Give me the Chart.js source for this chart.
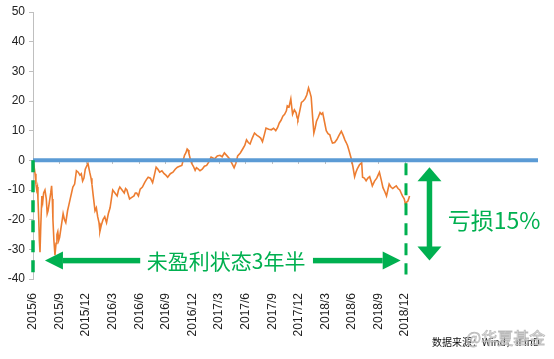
<!DOCTYPE html>
<html>
<head>
<meta charset="utf-8">
<script src="https://cdn.jsdelivr.net/npm/chart.js@4.4.1/dist/chart.umd.min.js"></script>
<style>
  html, body { margin: 0; padding: 0; background: #fff; }
</style>
</head>
<body>
<canvas id="lossChart" width="554" height="359"></canvas>
<script>
// 月份偏移（从 2015/6 起）与对应收益率（%）
const months = [
  0, 0.12, 0.23, 0.33, 0.42, 0.5, 0.56, 0.65, 0.72, 0.79, 0.88, 1.0, 1.1, 1.2, 1.35, 1.5, 1.6, 1.7, 1.85, 2.0,
  2.1, 2.18, 2.25, 2.36, 2.48, 2.6, 2.7, 2.8, 2.9, 3.0, 3.2, 3.4, 3.55, 3.7, 3.9, 4.05, 4.2, 4.35, 4.5, 4.7,
  4.9, 5.1, 5.3, 5.45, 5.6, 5.75, 5.9, 6.05, 6.2, 6.3, 6.4, 6.55, 6.65, 6.8, 7.0, 7.15, 7.3, 7.45, 7.55, 7.7,
  7.9, 8.1, 8.3, 8.5, 8.7, 8.85, 9.0, 9.25, 9.5, 9.65, 9.8, 10.05, 10.3, 10.45, 10.6, 10.75, 10.9, 11.15, 11.4, 11.55,
  11.7, 11.9, 12.1, 12.35, 12.6, 12.8, 13.0, 13.25, 13.5, 13.7, 13.9, 14.1, 14.3, 14.55, 14.8, 15.0, 15.2, 15.5, 15.8, 16.05,
  16.3, 16.55, 16.8, 16.95, 17.1, 17.25, 17.4, 17.5, 17.6, 17.75, 17.9, 18.1, 18.3, 18.45, 18.6, 18.85, 19.1, 19.35, 19.6, 19.85,
  20.1, 20.3, 20.5, 20.8, 21.1, 21.35, 21.6, 21.9, 22.2, 22.45, 22.7, 22.9, 23.1, 23.4, 23.7, 23.9, 24.1, 24.3, 24.5, 24.75,
  25.0, 25.25, 25.5, 25.7, 25.9, 26.1, 26.3, 26.6, 26.9, 27.15, 27.4, 27.6, 27.8, 28.0, 28.2, 28.4, 28.6, 28.7, 28.9, 29.1,
  29.2, 29.3, 29.5, 29.7, 29.8, 29.9, 30.1, 30.3, 30.5, 30.7, 30.9, 31.1, 31.25, 31.4, 31.55, 31.7, 31.85, 32.0, 32.2, 32.4,
  32.55, 32.7, 32.9, 33.1, 33.3, 33.5, 33.65, 33.8, 34.05, 34.3, 34.55, 34.8, 35.0, 35.2, 35.35, 35.5, 35.7, 35.9, 36.1, 36.3,
  36.45, 36.6, 36.85, 37.1, 37.2, 37.4, 37.6, 37.8, 38.0, 38.15, 38.3, 38.55, 38.8, 38.95, 39.1, 39.3, 39.5, 39.7, 39.9, 40.05,
  40.2, 40.4, 40.6, 40.8, 41.0, 41.2, 41.4, 41.55, 41.7, 41.9, 42.05, 42.2, 42.3, 42.4, 42.5
];
const returns = [
  0, -2, -4.5, -8, -10, -9, -13, -20, -27, -31, -22, -12, -14, -11, -10, -13, -18, -17, -14, -11,
  -8.6, -13, -20, -27, -32, -28, -25, -24, -27, -26, -22, -18, -20, -21, -17, -15, -13, -11, -9, -8,
  -3.5, -4, -5, -4.5, -7, -6, -3, -2, -1, -2.5, -4, -6, -8, -12, -17, -16, -19, -21, -24, -22,
  -20, -19, -21, -18, -16, -13, -10, -11, -12, -10, -9, -10, -11, -9.5, -10, -11.5, -13, -12.5, -12, -11,
  -11, -12, -9.7, -9, -7.5, -6.5, -5.7, -6, -7.5, -5, -2.3, -3, -4, -3.5, -4.5, -5, -5.7, -4.5, -4, -3,
  -2.3, -2, -1.7, 0, 1.7, 2.5, 3.8, 3.5, 2.3, 0.5, -1, -2, -3.4, -2.5, -2.8, -3.5, -3, -2, -1.7, -0.5,
  1.1, 0.8, 0.5, 1.5, 1.7, 1.2, 2.5, 1.5, 0.5, -1, -2.5, -1, 1.5, 2.5, 4, 5, 6.9, 6, 5.5, 7.5,
  9.2, 8.5, 8, 7.5, 6.3, 8.5, 10.9, 10.5, 10.3, 10.8, 10, 11, 12.6, 13.5, 14.9, 15.5, 16.7, 18.4, 18, 20.7,
  18, 15.5, 17, 16, 14.5, 13.8, 16.5, 19.5, 20, 20.7, 22, 24.4, 23, 21.3, 15, 9.2, 11, 13.2, 14.5, 16.1,
  15.5, 16, 13, 10, 9, 8.6, 7, 5.8, 6, 7, 8.5, 9.8, 8.5, 6.9, 6, 5, 3, 0.8, -2, -5.5,
  -4, -2.9, -1.5, -0.8, -5.7, -6, -6.9, -6, -5.5, -7, -8.6, -7, -6, -5, -4, -6.5, -9.2, -10.5, -12, -10,
  -8, -9, -9.5, -9, -8.6, -9.5, -10, -11, -12, -13, -14.9, -14, -13.8, -13, -12
];
const quarterLabels = [
  "2015/6", "2015/9", "2015/12", "2016/3", "2016/6", "2016/9", "2016/12",
  "2017/3", "2017/6", "2017/9", "2017/12", "2018/3", "2018/6", "2018/9", "2018/12"
];
const lastLabelMonth = (quarterLabels.length - 1) * 3;
const axisMaxMonth = 57;

const GREEN = "#00b050";
const CJK = '"Noto Sans CJK SC", "Noto Sans", sans-serif';

// 箭头
function hArrow(ctx, x1, x2, yy, shaft, headLen, headHalf) {
  const dir = Math.sign(x2 - x1);
  const base = x2 - dir * headLen;
  ctx.fillRect(Math.min(x1, base), yy - shaft / 2, Math.abs(base - x1), shaft);
  ctx.beginPath();
  ctx.moveTo(x2, yy);
  ctx.lineTo(base, yy - headHalf);
  ctx.lineTo(base, yy + headHalf);
  ctx.closePath();
  ctx.fill();
}
function vDoubleArrow(ctx, xx, y1, y2, shaft, headLen, headHalf) {
  ctx.fillRect(xx - shaft / 2, y1 + headLen - 1, shaft, y2 - y1 - 2 * headLen + 2);
  ctx.beginPath();
  ctx.moveTo(xx, y1);
  ctx.lineTo(xx - headHalf, y1 + headLen);
  ctx.lineTo(xx + headHalf, y1 + headLen);
  ctx.closePath();
  ctx.fill();
  ctx.beginPath();
  ctx.moveTo(xx, y2);
  ctx.lineTo(xx - headHalf, y2 - headLen);
  ctx.lineTo(xx + headHalf, y2 - headLen);
  ctx.closePath();
  ctx.fill();
}

const notes = {
  id: "notes",
  afterDraw(chart) {
    const { ctx, scales: { x, y } } = chart;
    ctx.save();
    // 虚线
    ctx.strokeStyle = GREEN;
    ctx.setLineDash([12, 8]);
    ctx.lineWidth = 3.5;
    ctx.beginPath();
    ctx.moveTo(x.getPixelForValue(0), y.getPixelForValue(0));
    ctx.lineTo(x.getPixelForValue(0), y.getPixelForValue(-40));
    ctx.stroke();
    ctx.lineWidth = 3;
    ctx.beginPath();
    ctx.moveTo(x.getPixelForValue(42.1), y.getPixelForValue(-1));
    ctx.lineTo(x.getPixelForValue(42.1), y.getPixelForValue(-38.5));
    ctx.stroke();
    ctx.setLineDash([]);

    ctx.fillStyle = GREEN;
    const ay = y.getPixelForValue(-33.8);
    hArrow(ctx, x.getPixelForValue(12.1), x.getPixelForValue(1.35), ay, 5.5, 18, 9);
    hArrow(ctx, x.getPixelForValue(31.6), x.getPixelForValue(41.5), ay, 5.5, 18, 9);
    vDoubleArrow(ctx, x.getPixelForValue(44.75), y.getPixelForValue(-2.3), y.getPixelForValue(-33.8), 5.5, 14, 12);

    ctx.font = "21px " + CJK;
    ctx.textAlign = "center";
    ctx.textBaseline = "middle";
    ctx.fillText("未盈利状态3年半", x.getPixelForValue(21.8), ay);
    ctx.font = "23px " + CJK;
    ctx.textAlign = "left";
    ctx.fillText("亏损15%", x.getPixelForValue(46.8), y.getPixelForValue(-20.3));

    // 数据来源与水印
    ctx.font = "10px " + CJK;
    ctx.fillStyle = "#111";
    ctx.textBaseline = "alphabetic";
    ctx.fillText("数据来源：Wind，iFinD", 432, 346);
    ctx.font = "16px " + CJK;
    ctx.fillStyle = "rgba(235,235,235,0.85)";
    ctx.strokeStyle = "rgba(150,150,150,0.6)";
    ctx.lineWidth = 0.8;
    ctx.fillText("@华夏基金", 466, 344);
    ctx.strokeText("@华夏基金", 466, 344);
    ctx.restore();
  }
};

const ctx = document.getElementById("lossChart").getContext("2d");
new Chart(ctx, {
  type: "line",
  data: {
    datasets: [
      {
        label: "零线",
        data: [{ x: 0, y: 0 }, { x: axisMaxMonth, y: 0 }],
        borderColor: "#5b9bd5",
        borderWidth: 4,
        pointRadius: 0,
        xAxisID: "x"
      },
      {
        label: "收益率",
        data: months.map((m, i) => ({ x: m, y: returns[i] })),
        borderColor: "#ed7d31",
        borderWidth: 1.6,
        pointRadius: 0,
        tension: 0,
        xAxisID: "x"
      }
    ]
  },
  options: {
    responsive: false,
    animation: false,
    devicePixelRatio: 1,
    layout: { padding: { left: 0, right: 16, top: 12, bottom: 0 } },
    plugins: {
      legend: { display: false },
      tooltip: { enabled: false }
    },
    scales: {
      x: {
        type: "linear",
        min: 0,
        max: axisMaxMonth,
        position: "bottom",
        grid: { display: false },
        border: { display: false },
        ticks: {
          stepSize: 3,
          autoSkip: false,
          maxRotation: 90,
          minRotation: 90,
          padding: 6,
          color: "#222",
          font: { family: "Liberation Sans", size: 12 },
          callback: (v) => (v % 3 === 0 && v <= lastLabelMonth ? quarterLabels[v / 3] : "")
        },
        afterFit: (s) => { s.height = 80; s.paddingLeft = 0; s.paddingRight = 0; }
      },
      xZero: {
        type: "linear",
        min: 0,
        max: axisMaxMonth,
        position: { y: 0 },
        ticks: { display: false, stepSize: 3 },
        grid: { drawOnChartArea: false, tickLength: 4, color: "#bfbfbf" },
        border: { display: false },
        afterBuildTicks: (s) => { s.ticks = s.ticks.filter((t) => t.value <= lastLabelMonth); }
      },
      y: {
        min: -40,
        max: 50,
        grid: { drawOnChartArea: false, tickLength: 4, color: "#bfbfbf" },
        border: { color: "#bfbfbf" },
        ticks: {
          stepSize: 10,
          padding: 4,
          color: "#222",
          font: { family: "Liberation Sans", size: 12 }
        },
        afterFit: (s) => { s.width = 33; }
      }
    }
  },
  plugins: [notes]
});
</script>
</body>
</html>
